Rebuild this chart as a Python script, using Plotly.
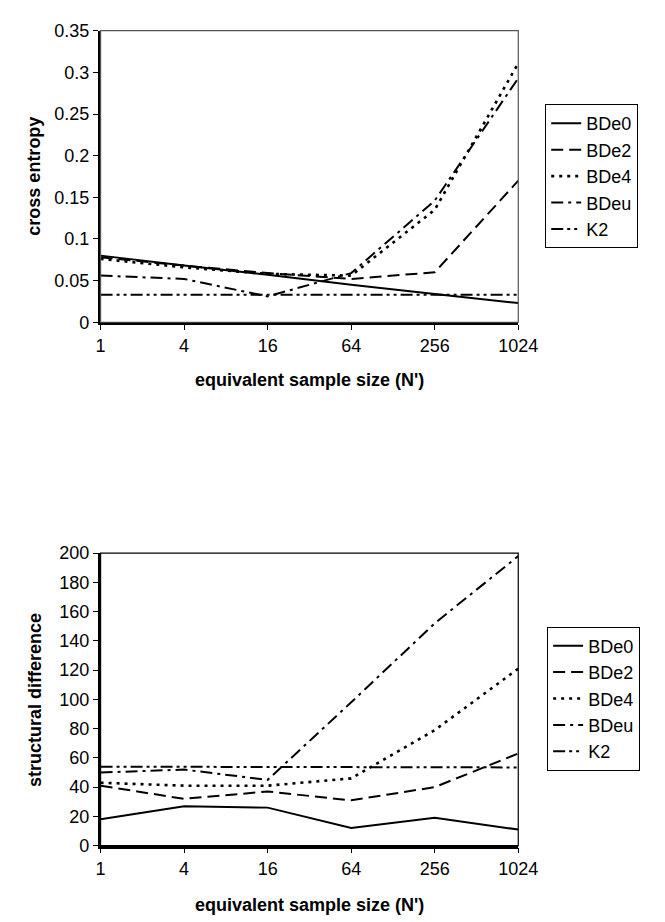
import plotly.graph_objects as go

# equivalent sample size N'
ess = [1, 4, 16, 64, 256, 1024]
ess_labels = ["1", "4", "16", "64", "256", "1024"]

names = ["BDe0", "BDe2", "BDe4", "BDeu", "K2"]

# cross entropy (top panel)
ce_bde0 = [0.080, 0.068, 0.057, 0.045, 0.034, 0.023]
ce_bde2 = [0.078, 0.068, 0.059, 0.052, 0.060, 0.170]
ce_bde4 = [0.076, 0.066, 0.058, 0.056, 0.135, 0.311]
ce_bdeu = [0.056, 0.052, 0.031, 0.059, 0.146, 0.293]
ce_k2 = [0.033, 0.033, 0.033, 0.033, 0.033, 0.033]

# structural difference (bottom panel)
sd_bde0 = [18, 27, 26, 12, 19, 11]
sd_bde2 = [41, 32, 37, 31, 40, 63]
sd_bde4 = [43, 41, 41, 46, 79, 121]
sd_bdeu = [50, 52, 45, 98, 152, 198]
sd_k2 = [54, 54, 54, 54, 53.5, 53.5]

dashes = ["solid", "12px,6px", "3px,5px", "12px,5px,3px,5px", "12px,4px,3px,4px,3px,4px"]
widths = [2, 2, 2.6, 2, 2]

W, H = 665, 922
font = "Liberation Sans, Arial, sans-serif"

fig = go.Figure()

top = [ce_bde0, ce_bde2, ce_bde4, ce_bdeu, ce_k2]
bot = [sd_bde0, sd_bde2, sd_bde4, sd_bdeu, sd_k2]
for name, ys, d, w in zip(names, top, dashes, widths):
    fig.add_trace(go.Scatter(x=ess, y=ys, mode="lines", name=name,
                             line=dict(color="black", width=w, dash=d),
                             xaxis="x", yaxis="y", legend="legend"))
for name, ys, d, w in zip(names, bot, dashes, widths):
    fig.add_trace(go.Scatter(x=ess, y=ys, mode="lines", name=name,
                             line=dict(color="black", width=w, dash=d),
                             xaxis="x2", yaxis="y2", legend="legend2"))

xdom = [91 / W, 525 / W]
ax_common = dict(showgrid=False, zeroline=False, showline=True, linecolor="black",
                 linewidth=2.5, ticks="outside", ticklen=5, tickwidth=1, tickcolor="black",
                 tickfont=dict(family=font, size=18, color="black"))

fig.update_layout(
    width=W, height=H,
    margin=dict(l=0, r=0, t=0, b=0),
    paper_bgcolor="white", plot_bgcolor="white",
    font=dict(family=font, color="black"),
    xaxis=dict(domain=xdom, type="log", range=[0, 3.0103], tickvals=ess,
               ticktext=ess_labels, anchor="y", **ax_common),
    yaxis=dict(domain=[1 - 311 / H, 1 - 13 / H], range=[0, 0.35], dtick=0.05,
               anchor="x", **ax_common),
    xaxis2=dict(domain=xdom, type="log", range=[0, 3.0103], tickvals=ess,
                ticktext=ess_labels, anchor="y2", **ax_common),
    yaxis2=dict(domain=[1 - 846 / H, 1 - 547 / H], range=[0, 200], dtick=20,
                anchor="x2", **ax_common),
    legend=dict(x=553 / W, y=1 - 88 / H, xanchor="left", yanchor="top",
                bordercolor="black", borderwidth=1, bgcolor="white",
                font=dict(family=font, size=18, color="black"), tracegroupgap=0),
    legend2=dict(x=555 / W, y=1 - 622 / H, xanchor="left", yanchor="top",
                 bordercolor="black", borderwidth=1, bgcolor="white",
                 font=dict(family=font, size=18, color="black"), tracegroupgap=0),
    showlegend=True,
)

# plot frames
for xr, yr, c in [("x domain", "y domain", "#555555"), ("x2 domain", "y2 domain", "black")]:
    fig.add_shape(type="rect", xref=xr, yref=yr, x0=0, x1=1, y0=0, y1=1,
                  line=dict(color=c, width=1.2), layer="above")

# axis titles
bold = dict(family=font, size=18, color="black")
titles = [
    ("<b>cross entropy</b>", 22, 162, -90),
    ("<b>equivalent sample size (N')</b>", 308, 370, 0),
    ("<b>structural difference</b>", 23, 697, -90),
    ("<b>equivalent sample size (N')</b>", 308, 907, 0),
]
for txt, px_, py_, ang in titles:
    fig.add_annotation(text=txt, x=px_ / W, y=1 - py_ / H, xref="paper", yref="paper",
                       xanchor="center", yanchor="middle", textangle=ang,
                       showarrow=False, font=bold)

fig.write_html("out.html")
